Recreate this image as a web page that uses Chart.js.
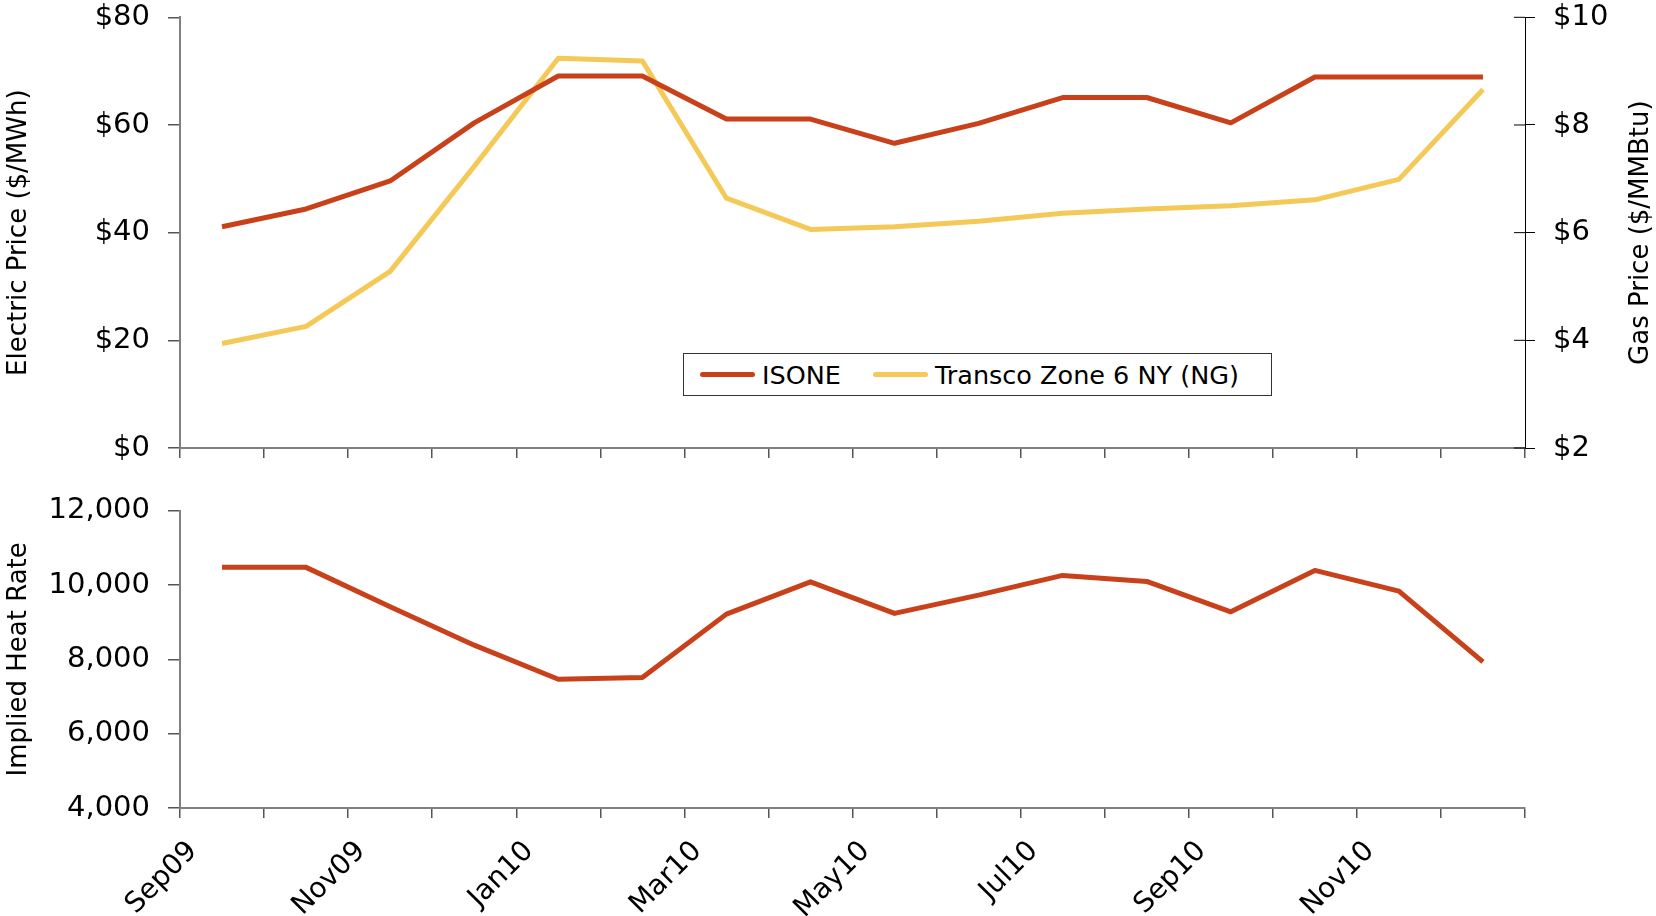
<!DOCTYPE html>
<html>
<head>
<meta charset="utf-8">
<script src="https://cdn.jsdelivr.net/npm/chart.js@4"></script>
<style>
    body { margin: 0; background: #fff; }
    #wrap { position: relative; width: 1656px; height: 916px; overflow: hidden; }
    #topBox { position: absolute; left: 0; top: 0; width: 1656px; height: 468px; }
    #bottomBox { position: absolute; left: 0; top: 470px; width: 1656px; height: 446px; }
    #legend {
        position: absolute; left: 683px; top: 353px; width: 589px; height: 43px;
        box-sizing: border-box; border: 1px solid #333; background: #fff;
        display: flex; align-items: center; padding-left: 16px;
        font-family: "DejaVu Sans", sans-serif; font-size: 25.5px; color: #000;
    }
    .item { display: flex; align-items: center; }
    .swatch { width: 55px; height: 5px; border-radius: 3px; margin-right: 7px; }
</style>
</head>
<body>
<div id="wrap">
    <div id="topBox"><canvas id="priceChart"></canvas></div>
    <div id="bottomBox"><canvas id="heatChart"></canvas></div>
    <div id="legend"></div>
</div>
<script>
// months, Sep09 .. Dec10 (values sit mid-month)
const months = ['Sep09', 'Oct09', 'Nov09', 'Dec09', 'Jan10', 'Feb10', 'Mar10', 'Apr10',
                'May10', 'Jun10', 'Jul10', 'Aug10', 'Sep10', 'Oct10', 'Nov10', 'Dec10'];

// ISONE electric price, $/MWh
const isone = [41.1, 44.4, 49.6, 60.4, 69.1, 69.1, 61.1, 61.1,
               56.6, 60.3, 65.1, 65.1, 60.4, 68.9, 68.9, 68.9];

// Transco Zone 6 NY gas price, $/MMBtu
const transco = [3.94, 4.26, 5.28, 7.23, 9.24, 9.19, 6.64, 6.06,
                 6.11, 6.21, 6.36, 6.44, 6.50, 6.61, 6.99, 8.66];

// implied heat rate
const heatRate = [10475, 10475, 9414, 8382, 7466, 7512, 9217, 10087,
                  9236, 9729, 10259, 10098, 9279, 10394, 9837, 7933];

const elecTitle = 'Electric Price ($/MWh)';
const gasTitle = 'Gas Price ($/MMBtu)';
const heatTitle = 'Implied Heat Rate';

const RED = '#C9411B';
const YELLOW = '#F4C958';
const AXIS_GREY = '#808080';
const FONT = '"DejaVu Sans", sans-serif';

// right axis: title reads upward and ticks cross the axis line
const rightAxisExtras = {
    id: 'rightAxisExtras',
    afterDraw(chart) {
        const s = chart.scales.y1;
        if (!s) return;
        const ctx = chart.ctx;
        ctx.save();
        ctx.strokeStyle = '#000';
        ctx.lineWidth = 1;
        for (let i = 0; i < s.ticks.length; ++i) {
            const y = s.getPixelForTick(i);
            ctx.beginPath();
            ctx.moveTo(s.left - 11, y);
            ctx.lineTo(s.left, y);
            ctx.stroke();
        }
        ctx.translate(s.right - 15, (chart.chartArea.top + chart.chartArea.bottom) / 2);
        ctx.rotate(-Math.PI / 2);
        ctx.font = '26px ' + FONT;
        ctx.fillStyle = '#000';
        ctx.textAlign = 'center';
        ctx.textBaseline = 'middle';
        ctx.fillText(gasTitle, 0, 0);
        ctx.restore();
    }
};

// fixed box sizes so both plots line up
const fixBox = (size) => (scale) => {
    if (scale.isHorizontal()) scale.height = size;
    else scale.width = size;
    scale.paddingTop = 0;
    scale.paddingBottom = 0;
    scale.paddingLeft = 0;
    scale.paddingRight = 0;
};

const tickFont = { family: FONT, size: 29 };
const titleFont = { family: FONT, size: 26 };

const priceChart = new Chart(document.getElementById('priceChart'), {
    type: 'line',
    data: {
        labels: months,
        datasets: [
            {
                label: 'ISONE',
                data: isone,
                yAxisID: 'y',
                borderColor: RED,
                backgroundColor: RED,
                borderWidth: 5,
                pointRadius: 0,
                tension: 0,
                borderJoinStyle: 'round',
            },
            {
                label: 'Transco Zone 6 NY (NG)',
                data: transco,
                yAxisID: 'y1',
                borderColor: YELLOW,
                backgroundColor: YELLOW,
                borderWidth: 5,
                pointRadius: 0,
                tension: 0,
                borderJoinStyle: 'round',
            }
        ]
    },
    options: {
        responsive: true,
        maintainAspectRatio: false,
        animation: false,
        layout: { padding: { top: 17.3, left: 0, right: 0, bottom: 0 } },
        plugins: { legend: { display: false }, tooltip: { enabled: false } },
        scales: {
            x: {
                type: 'category',
                offset: true,
                grid: { offset: true, drawOnChartArea: false, tickLength: 10, color: '#555', lineWidth: 1.5 },
                border: { color: AXIS_GREY, width: 2 },
                ticks: { display: false },
                afterFit: fixBox(20),
            },
            y: {
                type: 'linear',
                position: 'left',
                min: 0, max: 80,
                ticks: { stepSize: 20, color: '#000', font: tickFont, padding: 18,
                         callback: (v) => '$' + v },
                grid: { drawOnChartArea: false, tickLength: 12, color: '#555', lineWidth: 1.5 },
                border: { color: AXIS_GREY, width: 2 },
                title: { display: true, text: elecTitle, color: '#000', font: titleFont },
                afterFit: fixBox(180),
            },
            y1: {
                type: 'linear',
                position: 'right',
                min: 2, max: 10,
                ticks: { stepSize: 2, color: '#000', font: tickFont, padding: 18,
                         callback: (v) => '$' + v },
                grid: { drawOnChartArea: false, tickLength: 10, color: '#000', lineWidth: 1 },
                border: { color: '#000', width: 1 },
                afterFit: fixBox(131),
            }
        }
    },
    plugins: [rightAxisExtras]
});

const heatChart = new Chart(document.getElementById('heatChart'), {
    type: 'line',
    data: {
        labels: months,
        datasets: [
            {
                label: heatTitle,
                data: heatRate,
                borderColor: RED,
                borderWidth: 5,
                pointRadius: 0,
                tension: 0,
                borderJoinStyle: 'round',
            }
        ]
    },
    options: {
        responsive: true,
        maintainAspectRatio: false,
        animation: false,
        layout: { padding: { top: 40.7, left: 0, right: 131, bottom: 0 } },
        plugins: { legend: { display: false }, tooltip: { enabled: false } },
        scales: {
            x: {
                type: 'category',
                offset: true,
                grid: { offset: true, drawOnChartArea: false, tickLength: 10, color: '#555', lineWidth: 1.5 },
                border: { color: AXIS_GREY, width: 2 },
                ticks: {
                    color: '#000', font: { family: FONT, size: 28 },
                    autoSkip: false, minRotation: 45, maxRotation: 45,
                    padding: 17, labelOffset: -29,
                    callback: (v, i) => (i % 2 === 0 ? months[i] : ''),
                },
                afterFit: fixBox(108),
            },
            y: {
                type: 'linear',
                min: 4000, max: 12000,
                ticks: { stepSize: 2000, color: '#000', font: tickFont, padding: 18,
                         callback: (v) => v.toLocaleString('en-US') },
                grid: { drawOnChartArea: false, tickLength: 12, color: '#555', lineWidth: 1.5 },
                border: { color: AXIS_GREY, width: 2 },
                title: { display: true, text: heatTitle, color: '#000', font: titleFont },
                afterFit: fixBox(180),
            }
        }
    }
});

// legend box laid over the top chart, built from its datasets
const legendEl = document.getElementById('legend');
priceChart.data.datasets.forEach((ds, i) => {
    const item = document.createElement('div');
    item.className = 'item';
    if (i > 0) item.style.marginLeft = '32px';
    const sw = document.createElement('span');
    sw.className = 'swatch';
    sw.style.background = ds.borderColor;
    const txt = document.createElement('span');
    txt.textContent = ds.label;
    item.appendChild(sw);
    item.appendChild(txt);
    legendEl.appendChild(item);
});
</script>
</body>
</html>
